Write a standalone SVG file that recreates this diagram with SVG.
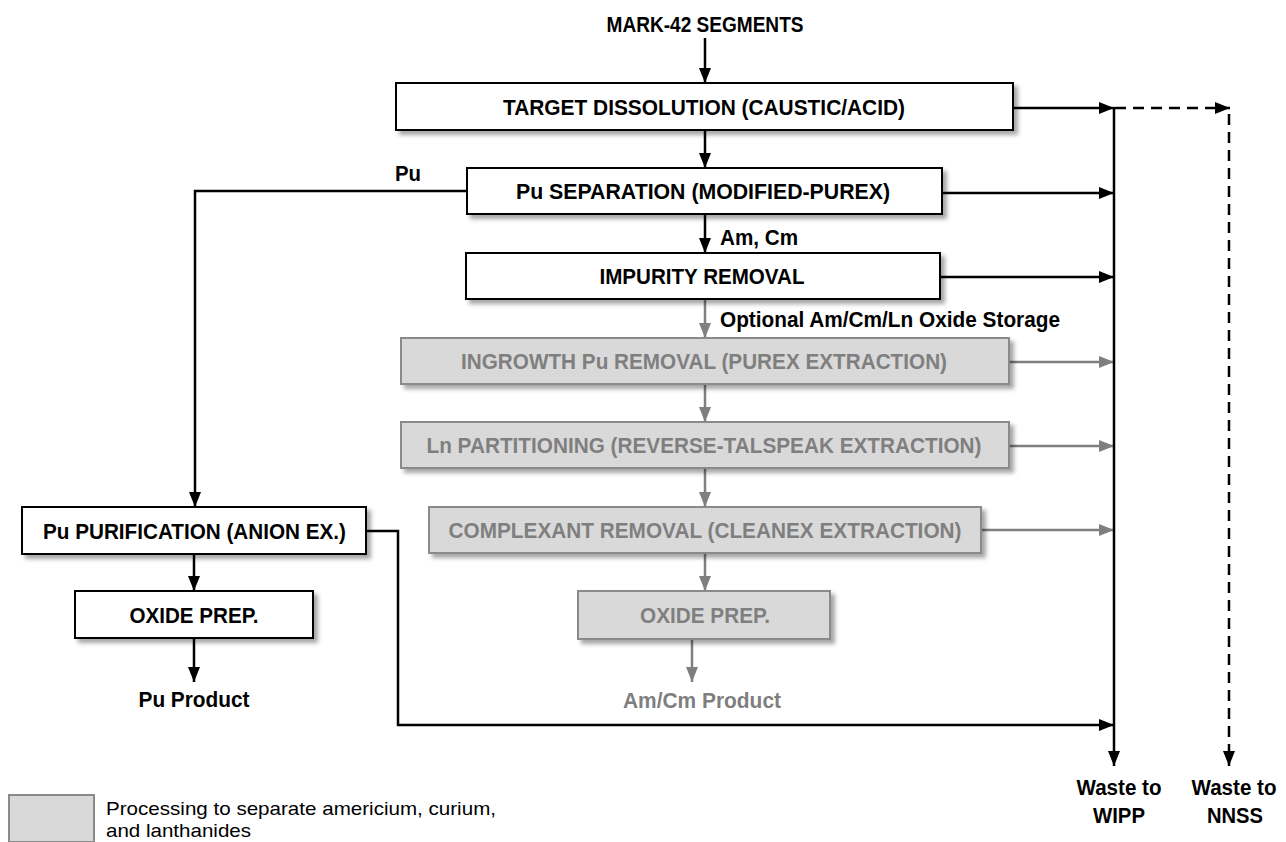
<svg xmlns="http://www.w3.org/2000/svg" width="1286" height="842" viewBox="0 0 1286 842">
<style>
.t{font-family:"Liberation Sans Narrow","Liberation Sans",Arial,sans-serif;font-weight:bold;font-size:22px;text-anchor:middle}
.blk{fill:#000}
.gry{fill:#7f7f7f}
.bbox{fill:#fff;stroke:#000;stroke-width:2}
.gbox{fill:#d9d9d9;stroke:#8a8a8a;stroke-width:2}
.ln{fill:none;stroke:#000;stroke-width:2.5}
.gl{fill:none;stroke:#7f7f7f;stroke-width:2.5}
.dash{fill:none;stroke:#000;stroke-width:2.5;stroke-dasharray:11 7}
.leg{font-family:"Liberation Sans",Arial,sans-serif;font-size:19px;fill:#000}
</style>
<defs>
<filter id="sh" x="-10%" y="-30%" width="120%" height="170%">
<feDropShadow dx="4" dy="4" stdDeviation="2" flood-color="#000" flood-opacity="0.35"/>
</filter>
<marker id="ab" markerUnits="userSpaceOnUse" markerWidth="15" markerHeight="12" refX="15" refY="6" orient="auto">
<path d="M0,0 L15,6 L0,12 Z" fill="#000"/>
</marker>
<marker id="ag" markerUnits="userSpaceOnUse" markerWidth="15" markerHeight="12" refX="15" refY="6" orient="auto">
<path d="M0,0 L15,6 L0,12 Z" fill="#7f7f7f"/>
</marker>
</defs>

<g id="connectors">
<line class="ln" x1="705" y1="38" x2="705" y2="83" marker-end="url(#ab)"/>
<line class="ln" x1="705" y1="130" x2="705" y2="168" marker-end="url(#ab)"/>
<line class="ln" x1="705" y1="214" x2="705" y2="253" marker-end="url(#ab)"/>
<line class="gl" x1="705" y1="299" x2="705" y2="338" marker-end="url(#ag)"/>
<line class="gl" x1="705" y1="384" x2="705" y2="422" marker-end="url(#ag)"/>
<line class="gl" x1="705" y1="468" x2="705" y2="507" marker-end="url(#ag)"/>
<line class="gl" x1="705" y1="553" x2="705" y2="591" marker-end="url(#ag)"/>
<line class="gl" x1="692" y1="639" x2="692" y2="682" marker-end="url(#ag)"/>
<line class="ln" x1="1013" y1="108" x2="1114" y2="108" marker-end="url(#ab)"/>
<line class="ln" x1="942" y1="193" x2="1114" y2="193" marker-end="url(#ab)"/>
<line class="ln" x1="940" y1="277" x2="1114" y2="277" marker-end="url(#ab)"/>
<line class="gl" x1="1009" y1="362" x2="1114" y2="362" marker-end="url(#ag)"/>
<line class="gl" x1="1009" y1="446" x2="1114" y2="446" marker-end="url(#ag)"/>
<line class="gl" x1="981" y1="530" x2="1114" y2="530" marker-end="url(#ag)"/>
<line class="ln" x1="1114" y1="107" x2="1114" y2="766" marker-end="url(#ab)"/>
<line class="dash" x1="1115" y1="108" x2="1230" y2="108" marker-end="url(#ab)"/>
<line class="dash" x1="1229" y1="114" x2="1229" y2="766" marker-end="url(#ab)"/>
<path class="ln" d="M467,191 H195 V507" marker-end="url(#ab)"/>
<line class="ln" x1="194" y1="554" x2="194" y2="591" marker-end="url(#ab)"/>
<line class="ln" x1="194" y1="638" x2="194" y2="682" marker-end="url(#ab)"/>
<path class="ln" d="M366,531 H398 V725 H1114" marker-end="url(#ab)"/>
</g>

<g id="mark42"><text class="t blk" x="705" y="32" textLength="197" lengthAdjust="spacingAndGlyphs">MARK-42 SEGMENTS</text></g>

<g id="target">
<rect class="bbox" x="396" y="83" width="617" height="47" filter="url(#sh)"/>
<text class="t blk" x="704" y="114.5" textLength="402" lengthAdjust="spacingAndGlyphs">TARGET DISSOLUTION (CAUSTIC/ACID)</text>
</g>

<g id="pusep">
<rect class="bbox" x="467" y="168" width="475" height="46" filter="url(#sh)"/>
<text class="t blk" x="703" y="199" textLength="374" lengthAdjust="spacingAndGlyphs">Pu  SEPARATION (MODIFIED-PUREX)</text>
</g>

<g id="impurity">
<rect class="bbox" x="466" y="253" width="474" height="46" filter="url(#sh)"/>
<text class="t blk" x="702" y="284" textLength="205" lengthAdjust="spacingAndGlyphs">IMPURITY REMOVAL</text>
</g>

<g id="ingrowth">
<rect class="gbox" x="401" y="338" width="608" height="46" filter="url(#sh)"/>
<text class="t gry" x="704" y="369" textLength="486" lengthAdjust="spacingAndGlyphs">INGROWTH Pu REMOVAL (PUREX EXTRACTION)</text>
</g>

<g id="lnpart">
<rect class="gbox" x="401" y="422" width="608" height="46" filter="url(#sh)"/>
<text class="t gry" x="704" y="453" textLength="555" lengthAdjust="spacingAndGlyphs">Ln PARTITIONING (REVERSE-TALSPEAK EXTRACTION)</text>
</g>

<g id="complexant">
<rect class="gbox" x="429" y="507" width="552" height="46" filter="url(#sh)"/>
<text class="t gry" x="705" y="538" textLength="513" lengthAdjust="spacingAndGlyphs">COMPLEXANT REMOVAL (CLEANEX EXTRACTION)</text>
</g>

<g id="oxide-amcm">
<rect class="gbox" x="578" y="591" width="252" height="48" filter="url(#sh)"/>
<text class="t gry" x="705" y="623" textLength="130" lengthAdjust="spacingAndGlyphs">OXIDE PREP.</text>
</g>

<g id="amcm-product"><text class="t gry" x="702" y="708" textLength="158" lengthAdjust="spacingAndGlyphs">Am/Cm Product</text></g>

<g id="pupur">
<rect class="bbox" x="22" y="507" width="344" height="47" filter="url(#sh)"/>
<text class="t blk" x="194.5" y="538.5" textLength="303" lengthAdjust="spacingAndGlyphs">Pu PURIFICATION (ANION EX.)</text>
</g>

<g id="oxide-pu">
<rect class="bbox" x="75" y="591" width="238" height="47" filter="url(#sh)"/>
<text class="t blk" x="194" y="622.5" textLength="129" lengthAdjust="spacingAndGlyphs">OXIDE PREP.</text>
</g>

<g id="pu-product"><text class="t blk" x="194" y="707" textLength="111" lengthAdjust="spacingAndGlyphs">Pu Product</text></g>

<g id="labels">
<text class="t blk" x="408" y="181" textLength="26" lengthAdjust="spacingAndGlyphs">Pu</text>
<text class="t blk" x="759" y="245" textLength="78" lengthAdjust="spacingAndGlyphs">Am, Cm</text>
<text class="t blk" x="890" y="327" textLength="340" lengthAdjust="spacingAndGlyphs">Optional Am/Cm/Ln Oxide Storage</text>
</g>

<g id="wipp">
<text class="t blk" x="1119" y="795" textLength="85" lengthAdjust="spacingAndGlyphs">Waste to</text>
<text class="t blk" x="1119" y="823" textLength="52" lengthAdjust="spacingAndGlyphs">WIPP</text>
</g>
<g id="nnss">
<text class="t blk" x="1234" y="795" textLength="85" lengthAdjust="spacingAndGlyphs">Waste to</text>
<text class="t blk" x="1235" y="823" textLength="56" lengthAdjust="spacingAndGlyphs">NNSS</text>
</g>

<g id="legend">
<rect x="9" y="795" width="85" height="47" fill="#d9d9d9" stroke="#8a8a8a" stroke-width="2"/>
<text class="leg" x="106" y="815" textLength="390" lengthAdjust="spacingAndGlyphs">Processing to separate americium, curium,</text>
<text class="leg" x="106" y="837" textLength="145" lengthAdjust="spacingAndGlyphs">and lanthanides</text>
</g>
</svg>
